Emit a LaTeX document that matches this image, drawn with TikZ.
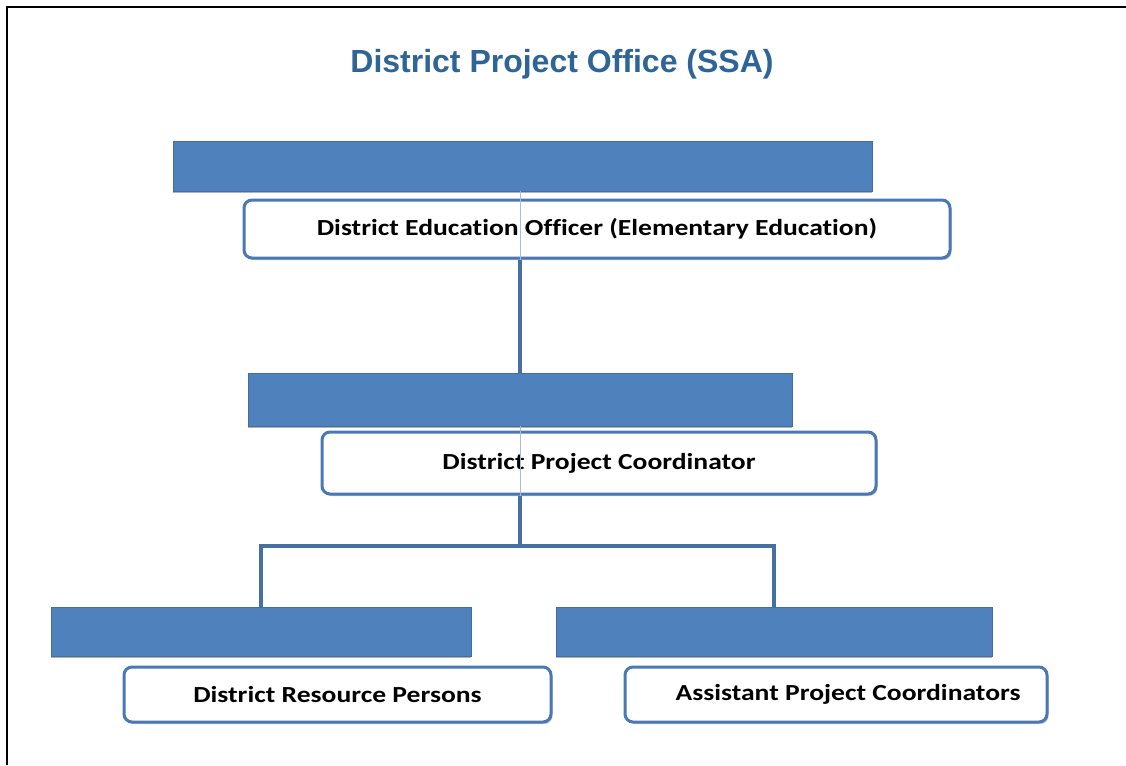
\documentclass[tikz,border=0pt]{standalone}
\usepackage{fontspec}
\setmainfont[Ligatures={NoCommon}, FakeStretch=1.2]{Carlito}
\newfontfamily\titlefont{Liberation Sans}
\usetikzlibrary{shadows}
\definecolor{barblue}{HTML}{4F81BD}
\definecolor{boxblue}{HTML}{4A78B5}
\definecolor{linkblue}{HTML}{45709F}
\definecolor{titleblue}{HTML}{2E6496}
\definecolor{thinblue}{HTML}{A9BDD8}
\tikzset{
  bar/.style={rectangle, fill=barblue, draw=barblue!85!black, line width=0.6pt, inner sep=0pt,
    drop shadow={shadow xshift=0pt, shadow yshift=-1.5pt, opacity=0.3, fill=black}},
  box/.style={rectangle, rounded corners=8pt, fill=white, draw=boxblue, line width=3pt, inner sep=0pt,
    font=\fontsize{23}{26}\selectfont\bfseries,
    drop shadow={shadow xshift=1.5pt, shadow yshift=-2pt, opacity=0.35, fill=black!60}},
  conn/.style={draw=linkblue, line width=4pt},
  thin/.style={draw=thinblue, line width=0.8pt}
}
\begin{document}
\begin{tikzpicture}[x=1pt,y=-1pt]
\useasboundingbox (0,0) rectangle (1126,765);
\draw[black, line width=2.5pt] (7,765) -- (7,7) -- (1126,7);
\node[font=\titlefont\fontsize{32}{36}\selectfont\bfseries, text=titleblue] (title) at (562,64) {District Project Office (SSA)};
% bars
\node[bar, minimum width=699pt, minimum height=50pt] (bar1) at (522.5,166) {};
\node[bar, minimum width=544pt, minimum height=53pt] (bar2) at (520,399.5) {};
\node[bar, minimum width=420pt, minimum height=49pt] (bar3) at (261,631.5) {};
\node[bar, minimum width=436pt, minimum height=49pt] (bar4) at (774,631.5) {};
% boxes
\node[box, minimum width=706pt, minimum height=58pt] (box1) at (597,229) {District Education Officer (Elementary Education)};
\node[box, minimum width=554pt, minimum height=62pt] (box2) at (599,463) {District Project Coordinator};
\node[box, minimum width=427pt, minimum height=55pt] (box3) at (337.5,694.5) {District Resource Persons};
\node[box, minimum width=422pt, minimum height=55pt] (box4) at (836,694.5) {\hspace*{24pt}Assistant Project Coordinators};
% thin lines through boxes
\draw[thin] (bar2.north |- bar1.south) -- (bar2.north |- box1.south);
\draw[thin] (bar2.south) -- (bar2.south |- box2.south);
% connectors
\coordinate (j) at (520,546);
\draw[conn] (bar2.north |- box1.south) -- (bar2.north);
\draw[conn] (bar2.south |- box2.south) -- (j);
\draw[conn] (j) -| (bar3.north);
\draw[conn] (j) -| (bar4.north);
\end{tikzpicture}
\end{document}
